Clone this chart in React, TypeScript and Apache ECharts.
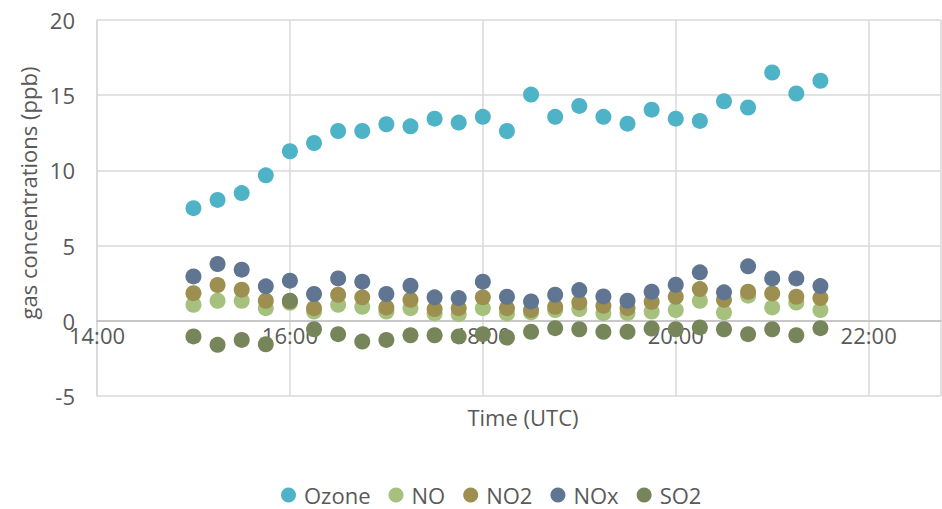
import React, { useEffect, useRef } from "react";
import * as echarts from "echarts";

const times = [
  "15:00", "15:15", "15:30", "15:45", "16:00", "16:15", "16:30", "16:45",
  "17:00", "17:15", "17:30", "17:45", "18:00", "18:15", "18:30", "18:45",
  "19:00", "19:15", "19:30", "19:45", "20:00", "20:15", "20:30", "20:45",
  "21:00", "21:15", "21:30",
];

const ozone = [7.49, 8.04, 8.49, 9.67, 11.27, 11.82, 12.62, 12.62, 13.07, 12.93, 13.44, 13.18, 13.56, 12.62,
  15.04, 13.56, 14.29, 13.56, 13.11, 14.04, 13.44, 13.29, 14.6, 14.18, 16.51, 15.11, 15.96];
const no = [1.07, 1.33, 1.33, 0.84, 1.2, 0.62, 1.07, 0.93, 0.62, 0.84, 0.49, 0.44, 0.84, 0.49,
  0.56, 0.71, 0.78, 0.51, 0.51, 0.62, 0.71, 1.33, 0.56, 1.67, 0.89, 1.22, 0.71];
const no2 = [1.84, 2.38, 2.07, 1.33, 1.3, 0.84, 1.73, 1.56, 0.89, 1.4, 0.78, 0.84, 1.56, 0.84,
  0.71, 0.93, 1.22, 1.0, 0.84, 1.27, 1.6, 2.11, 1.4, 1.93, 1.82, 1.6, 1.51];
const nox = [2.95, 3.78, 3.4, 2.29, 2.67, 1.78, 2.82, 2.6, 1.78, 2.33, 1.56, 1.51, 2.6, 1.6,
  1.29, 1.73, 2.04, 1.62, 1.33, 1.93, 2.4, 3.22, 1.89, 3.62, 2.82, 2.82, 2.31];
const so2 = [-1.04, -1.6, -1.27, -1.56, 1.33, -0.56, -0.89, -1.38, -1.27, -0.96, -0.96, -1.04, -0.89, -1.11,
  -0.73, -0.49, -0.56, -0.73, -0.73, -0.51, -0.56, -0.44, -0.56, -0.89, -0.56, -0.96, -0.49];

const seriesNames = ["Ozone", "NO", "NO2", "NOx", "SO2"];
const seriesValues = [ozone, no, no2, nox, so2];
const colors = ["#4FB3C8", "#A6C07D", "#9C8F50", "#5F7591", "#76855A"];

const yTicks = [-5, 0, 5, 10, 15, 20];
const xMinHour = 14;
const xMaxHour = 22.75;
const xStepHours = 2;

const toHours = (t: string) => {
  const [h, m] = t.split(":").map(Number);
  return h + m / 60;
};

const FONT = "'Open Sans', 'Segoe UI', sans-serif";
const TEXT_COLOR = "#595959";
const FS = 22;

export default function App() {
  const ref = useRef<HTMLDivElement>(null);

  useEffect(() => {
    if (!ref.current) return;
    const chart = echarts.init(ref.current, undefined, { renderer: "svg" });
    const yMin = yTicks[0];
    const yMax = yTicks[yTicks.length - 1];
    const gridTop = 20;
    const gridBottom = 113;
    const plotH = 509 - gridTop - gridBottom;
    // shift the x axis up so it sits on y = 0
    const zeroOffset = -(plotH * (0 - yMin)) / (yMax - yMin);
    chart.setOption({
      animation: false,
      backgroundColor: "#ffffff",
      textStyle: { fontFamily: FONT },
      grid: { left: 97, right: 1, top: gridTop, bottom: gridBottom, containLabel: false },
      xAxis: {
        type: "value",
        min: xMinHour,
        max: xMaxHour,
        interval: xStepHours,
        offset: zeroOffset,
        axisLine: { show: true, onZero: false, lineStyle: { color: "#BFBFBF", width: 1.5 } },
        axisTick: { show: false },
        splitLine: { show: true, lineStyle: { color: "#D9D9D9", width: 1.5 } },
        axisLabel: {
          color: TEXT_COLOR,
          fontSize: FS,
          fontFamily: FONT,
          margin: 3,
          showMaxLabel: false,
          formatter: (v: number) => (Number.isInteger(v) ? `${v}:00` : ""),
        },
      },
      yAxis: {
        type: "value",
        min: yMin,
        max: yMax,
        interval: 5,
        axisLine: { show: true, lineStyle: { color: "#D9D9D9", width: 1.5 } },
        axisTick: { show: false },
        splitLine: { show: true, lineStyle: { color: "#D9D9D9", width: 1.5 } },
        axisLabel: { color: TEXT_COLOR, fontSize: FS, fontFamily: FONT, margin: 22 },
      },
      legend: {
        data: seriesNames,
        left: 281,
        top: 484,
        padding: 0,
        icon: "circle",
        itemWidth: 15,
        itemHeight: 15,
        itemGap: 18,
        textStyle: { color: TEXT_COLOR, fontSize: FS, fontFamily: FONT, padding: [0, 0, 0, 3] },
      },
      graphic: [
        {
          type: "text",
          x: 28,
          y: 193,
          rotation: Math.PI / 2,
          style: {
            text: "gas concentrations (ppb)",
            fill: TEXT_COLOR,
            fontSize: FS,
            fontFamily: FONT,
            align: "center",
            verticalAlign: "middle",
          },
        },
        {
          type: "text",
          x: 523,
          y: 417,
          style: {
            text: "Time (UTC)",
            fill: TEXT_COLOR,
            fontSize: FS,
            fontFamily: FONT,
            align: "center",
            verticalAlign: "middle",
          },
        },
      ],
      series: seriesNames.map((name, i) => ({
        name,
        type: "scatter",
        symbol: "circle",
        symbolSize: 16,
        itemStyle: { color: colors[i], opacity: 1 },
        data: times.map((t, j) => [toHours(t), seriesValues[i][j]]),
      })),
    });
    return () => chart.dispose();
  }, []);

  return (
    <div
      ref={ref}
      style={{ position: "fixed", left: 0, top: 0, width: 942, height: 509, background: "#fff" }}
    />
  );
}
